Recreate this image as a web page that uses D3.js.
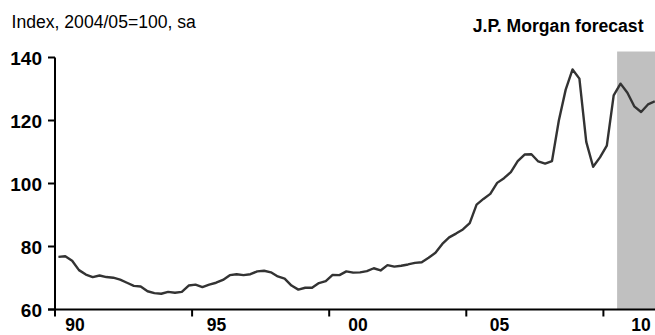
<!DOCTYPE html>
<html>
<head>
<meta charset="utf-8">
<script src="https://cdn.jsdelivr.net/npm/d3@7"></script>
<style>
  html, body { margin: 0; padding: 0; background: #fff; }
  svg { display: block; }
  text { font-family: "Liberation Sans", Arial, sans-serif; fill: #000; }
</style>
</head>
<body>
<div id="chart"></div>
<script>
// ---- data (quarterly, 1990Q1 .. 2011Q4) ----
const startYear = 1990;
const values = [
  76.7, 76.9, 75.5, 72.5, 71.1, 70.3, 70.8, 70.3, 70.1, 69.5,
  68.5, 67.5, 67.3, 65.8, 65.2, 65.0, 65.6, 65.3, 65.6, 67.6,
  67.9, 67.1, 67.9, 68.5, 69.4, 70.9, 71.2, 70.9, 71.2, 72.1,
  72.3, 71.8, 70.5, 69.8, 67.6, 66.3, 66.9, 66.9, 68.4, 69.0,
  71.0, 70.9, 72.1, 71.7, 71.8, 72.2, 73.1, 72.4, 74.1, 73.6,
  73.9, 74.3, 74.8, 75.0, 76.4, 78.0, 80.8, 82.9, 84.1, 85.4,
  87.4, 93.3, 95.1, 96.7, 100.2, 101.7, 103.6, 107.1, 109.2, 109.3,
  107.0, 106.3, 107.1, 120.0, 129.8, 136.2, 133.3, 113.2, 105.3, 108.3,
  112.0, 128.0, 131.7, 128.8, 124.5, 122.7, 125.1, 126.1
];
const quarters = values.map((v, i) => startYear + i / 4 + 0.125); // mid-quarter
const forecastStart = 2010.5;
const xTickYears = [1990, 1995, 2000, 2005, 2010];
const xTickLabels = ["90", "95", "00", "05", "10"];
const yTicks = [60, 80, 100, 120, 140];
const titleLeft = "Index, 2004/05=100, sa";
const titleRight = "J.P. Morgan forecast";

// ---- layout ----
const W = 655, H = 335;
const svg = d3.select("#chart").append("svg").attr("width", W).attr("height", H);

const x = d3.scaleLinear().domain([1990, 2010]).range([55, 603.4]);
const xLabel = d3.scaleLinear().domain([1990, 2010]).range([75, 641]);
const y = d3.scaleLinear().domain([60, 140]).range([309.5, 57.5]);

// forecast shading
svg.append("rect")
  .attr("x", x(forecastStart))
  .attr("y", y(141.9))
  .attr("width", W - x(forecastStart))
  .attr("height", y(60) - y(141.9))
  .attr("fill", "#c0c0c0");

// line
const line = d3.line().x((d, i) => x(quarters[i])).y(d => y(d));
svg.append("path")
  .datum(values)
  .attr("d", line)
  .attr("fill", "none")
  .attr("stroke", "#333333")
  .attr("stroke-width", 2.4)
  .attr("stroke-linejoin", "round");

// y axis
const yAxis = svg.append("g");
yAxis.append("line")
  .attr("x1", x(1990)).attr("x2", x(1990))
  .attr("y1", y(140)).attr("y2", y(60))
  .attr("stroke", "#000").attr("stroke-width", 2);
yAxis.selectAll("line.tick").data(yTicks).join("line")
  .attr("class", "tick")
  .attr("x1", x(1990) - 7).attr("x2", x(1990))
  .attr("y1", d => y(d)).attr("y2", d => y(d))
  .attr("stroke", "#000").attr("stroke-width", 2);
yAxis.selectAll("text").data(yTicks).join("text")
  .attr("x", 42)
  .attr("y", d => y(d) + 7)
  .attr("text-anchor", "end")
  .attr("font-size", 19)
  .attr("font-weight", "bold")
  .text(d => d);

// x axis
const xAxis = svg.append("g");
xAxis.append("line")
  .attr("x1", x(1990) - 7).attr("x2", W)
  .attr("y1", y(60)).attr("y2", y(60))
  .attr("stroke", "#000").attr("stroke-width", 2);
xAxis.selectAll("line.tick").data(xTickYears).join("line")
  .attr("class", "tick")
  .attr("x1", d => x(d)).attr("x2", d => x(d))
  .attr("y1", y(60)).attr("y2", y(60) + 7)
  .attr("stroke", "#000").attr("stroke-width", 2);
xAxis.selectAll("text").data(xTickYears).join("text")
  .attr("x", d => xLabel(d))
  .attr("y", 331)
  .attr("text-anchor", "middle")
  .attr("font-size", 17.5)
  .attr("font-weight", "bold")
  .text((d, i) => xTickLabels[i]);

// titles
svg.append("text")
  .attr("x", 11.5).attr("y", 28.3)
  .attr("font-size", 17.6)
  .text(titleLeft);
svg.append("text")
  .attr("x", 643.5).attr("y", 31.7)
  .attr("text-anchor", "end")
  .attr("font-size", 17.6)
  .attr("font-weight", "bold")
  .text(titleRight);
</script>
</body>
</html>
